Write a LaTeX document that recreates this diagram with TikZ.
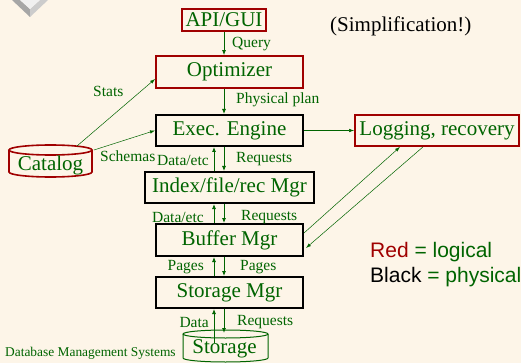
\documentclass[tikz,border=0pt]{standalone}
\usepackage{fontspec}
\setmainfont{Liberation Serif}
\newfontfamily\lsans{Liberation Sans}
\usetikzlibrary{arrows.meta,calc}
\definecolor{bg}{RGB}{253,245,232}
\definecolor{dgreen}{RGB}{0,100,0}
\definecolor{dred}{RGB}{160,0,0}
\begin{document}
\begin{tikzpicture}[x=1pt,y=-1pt,
  bigtxt/.style={font=\fontsize{21}{24}\selectfont},
  lbox/.style={draw=dred, line width=1.8pt, text=dgreen, bigtxt, inner sep=0pt},
  pbox/.style={draw=black, line width=2pt, text=dgreen, bigtxt, inner sep=0pt},
  lab/.style={text=dgreen, font=\fontsize{15.5}{18}\selectfont, inner sep=0pt},
  arr/.style={dgreen, line width=0.8pt, -{Latex[length=5pt,width=4pt]}},
  thinarr/.style={dgreen, line width=0.5pt, -{Latex[length=5pt,width=3.5pt]}}]
\fill[bg] (0,0) rectangle (521,363);
\useasboundingbox (0,0) rectangle (521,363);
% decorative diamond
\fill[gray!70] (12,0) -- (30,17) -- (30,9) -- (20,0) -- cycle;
\fill[gray!40] (48,0) -- (30,17) -- (30,9) -- (40,0) -- cycle;
\fill[gray!12] (20,0) -- (30,9) -- (40,0) -- cycle;
% boxes
\node[lbox, minimum width=84, minimum height=22] (api) at (224,20) {API/GUI};
\node[lbox, minimum width=147, minimum height=32] (opt) at (229.5,72) {Optimizer};
\node[pbox, minimum width=147, minimum height=31] (exec) at (229.5,130.5) {Exec. Engine};
\node[pbox, minimum width=169, minimum height=31] (idx) at (229.5,187.5) {Index/file/rec Mgr};
\node[pbox, minimum width=147, minimum height=32] (buf) at (229.5,240) {Buffer Mgr};
\node[pbox, minimum width=147, minimum height=31] (sm) at (229.5,292.5) {Storage Mgr};
\node[lbox, minimum width=164, minimum height=31] (log) at (437,130.5) {Logging, recovery};
% cylinders
\draw[dred, line width=1.6pt] (50.5,150) ellipse [x radius=41.5pt, y radius=5pt];
\draw[dred, line width=1.6pt] (9,150) -- (9,172) arc[start angle=180, end angle=360, x radius=41.5pt, y radius=5pt] -- (92,150);
\node[text=dgreen, bigtxt, inner sep=0pt] (cat) at (50.5,165) {Catalog};
\draw[dgreen, line width=1pt] (225.5,334) ellipse [x radius=42.5pt, y radius=4pt];
\draw[dgreen, line width=1pt] (183,334) -- (183,358) arc[start angle=180, end angle=360, x radius=42.5pt, y radius=4pt] -- (268,334);
\node[text=dgreen, bigtxt, inner sep=0pt] (sto) at (224.5,349) {Storage};
% vertical connectors
\draw[arr] (api.south) -- (api.south |- opt.north);
\draw[arr] ([xshift=-5.5pt]opt.south) -- ([xshift=-5.5pt]exec.north);
\draw[arr] ([xshift=-15.5pt]idx.north) -- ([xshift=-15.5pt]exec.south);
\draw[arr] ([xshift=-5.5pt]exec.south) -- ([xshift=-5.5pt]idx.north);
\draw[arr] ([xshift=-15.5pt]buf.north) -- ([xshift=-15.5pt]idx.south);
\draw[arr] ([xshift=-5.5pt]idx.south) -- ([xshift=-5.5pt]buf.north);
\draw[arr] ([xshift=-15.5pt]sm.north) -- ([xshift=-15.5pt]buf.south);
\draw[arr] ([xshift=-5.5pt]buf.south) -- ([xshift=-5.5pt]sm.north);
\draw[arr] ($(sto.center)+(-10.5,-6)$) -- ([xshift=-15.5pt]sm.south);
\draw[arr] ([xshift=-5.5pt]sm.south) -- ($(sto.center)+(-0.5,-16)$);
% other connectors
\draw[thinarr] ([xshift=26.5pt,yshift=19pt]cat.center) -- ([yshift=-7pt]opt.west);
\draw[thinarr] ([xshift=43.5pt,yshift=15pt]cat.center) -- (exec.west);
\draw[thinarr] (exec.east) -- (log.west);
\draw[thinarr] ([yshift=7pt]buf.east) -- ([xshift=-37pt]log.south);
\draw[thinarr] ([xshift=-14pt]log.south) -- ([xshift=2pt,yshift=-8pt]buf.east);
% labels
\node[lab, anchor=west] (lq) at (232,44) {Query};
\node[lab, anchor=west] (lpp) at (236,100) {Physical plan};
\node[lab, anchor=west] (lst) at (93,91) {Stats};
\node[lab, anchor=west] (lsc) at (100,156) {Schemas};
\node[lab, anchor=east] (ld1) at (209,160) {Data/etc};
\node[lab, anchor=west] (lr1) at (236,159) {Requests};
\node[lab, anchor=east] (ld2) at (204,217) {Data/etc};
\node[lab, anchor=west] (lr2) at (241,217) {Requests};
\node[lab, anchor=east] (lp1) at (204,267) {Pages};
\node[lab, anchor=west] (lp2) at (240,267) {Pages};
\node[lab, anchor=east] (ld3) at (209,322) {Data};
\node[lab, anchor=west] (lr3) at (237,322) {Requests};
% texts
\node[bigtxt, anchor=west, inner sep=0pt] (simp) at (330,26) {(Simplification!)};
\node[anchor=west, inner sep=0pt, font=\lsans\fontsize{21}{24}\selectfont] (leg1) at (370,252) {\textcolor{dred}{Red} \textcolor{dgreen}{= logical}};
\node[anchor=west, inner sep=0pt, font=\lsans\fontsize{21}{24}\selectfont] (leg2) at (370,277) {Black \textcolor{dgreen}{= physical}};
\node[anchor=west, inner sep=0pt, text=dgreen, font=\fontsize{13.4}{15}\selectfont] (dbms) at (5,353) {Database Management Systems};
\end{tikzpicture}
\end{document}
